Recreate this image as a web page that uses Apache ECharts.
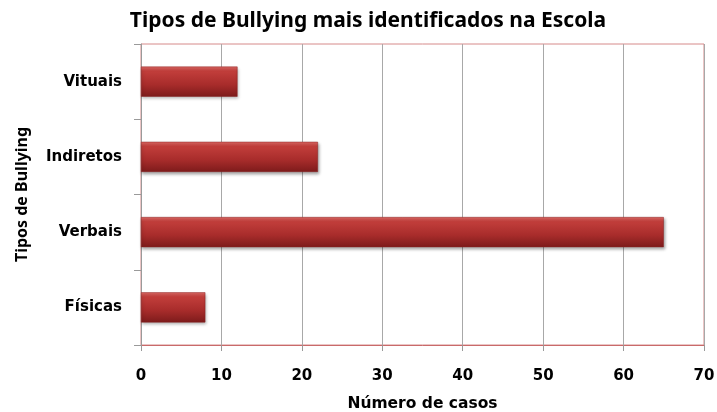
<!DOCTYPE html>
<html>
<head>
<meta charset="utf-8">
<script src="https://cdn.jsdelivr.net/npm/echarts@6/dist/echarts.min.js"></script>
<style>
  html, body { margin: 0; padding: 0; background: #ffffff; }
  #chart { width: 717px; height: 412px; }
</style>
</head>
<body>
<div id="chart"></div>
<script>
// Bullying types (bottom to top) and number of cases
const categories = ['Físicas', 'Verbais', 'Indiretos', 'Vituais'];
const casos = [8, 65, 22, 12];
const xTicks = [0, 10, 20, 30, 40, 50, 60, 70];

const NARROW = '"Noto Sans", "Open Sans", sans-serif';
const WIDE = '"DejaVu Sans", Verdana, sans-serif';

const chart = echarts.init(document.getElementById('chart'));

chart.setOption({
  backgroundColor: '#ffffff',
  animation: false,
  title: {
    text: 'Tipos de Bullying mais identificados na Escola',
    left: 363,
    top: 6,
    textAlign: 'center',
    textStyle: { fontFamily: NARROW, fontWeight: 'bold', fontSize: 21, color: '#000' }
  },
  grid: {
    left: 141, right: 13, top: 44, bottom: 67,
    outerBoundsMode: 'none',
    containLabel: false,
    show: true,
    borderColor: '#d68a8a',
    borderWidth: 1,
    backgroundColor: 'transparent'
  },
  xAxis: {
    type: 'value',
    min: xTicks[0],
    max: xTicks[xTicks.length - 1],
    interval: 10,
    name: 'Número de casos',
    nameLocation: 'middle',
    nameGap: 51,
    nameTextStyle: { fontFamily: WIDE, fontWeight: 'bold', fontSize: 15.5, color: '#000' },
    axisLine: { show: true, lineStyle: { color: '#c96a6a', width: 1 } },
    axisTick: { show: true, length: 6, lineStyle: { color: '#999' } },
    axisLabel: { fontFamily: WIDE, fontWeight: 'bold', fontSize: 15, color: '#000', margin: 24 },
    splitLine: { show: true, lineStyle: { color: '#a8a8a8', width: 1 } }
  },
  yAxis: {
    type: 'category',
    data: categories,
    name: 'Tipos de Bullying',
    nameLocation: 'middle',
    nameGap: 111,
    nameRotate: 90,
    nameTextStyle: { fontFamily: NARROW, fontWeight: 'bold', fontSize: 16, color: '#000' },
    axisLine: { show: true, lineStyle: { color: '#9a9a9a', width: 1 } },
    axisTick: { show: true, length: 7, lineStyle: { color: '#9a9a9a' } },
    axisLabel: { fontFamily: WIDE, fontWeight: 'bold', fontSize: 15, color: '#000', margin: 19 },
    splitLine: { show: false }
  },
  series: [{
    type: 'bar',
    data: casos,
    barWidth: '40%',
    itemStyle: {
      color: new echarts.graphic.LinearGradient(0, 0, 0, 1, [
        { offset: 0, color: '#e06a66' },
        { offset: 0.15, color: '#c23e3b' },
        { offset: 0.6, color: '#a82c2b' },
        { offset: 1, color: '#7d1b1b' }
      ]),
      borderColor: '#8a2222',
      borderWidth: 0.5,
      shadowColor: 'rgba(0,0,0,0.35)',
      shadowBlur: 3,
      shadowOffsetX: 1,
      shadowOffsetY: 2
    }
  }]
});
</script>
</body>
</html>
